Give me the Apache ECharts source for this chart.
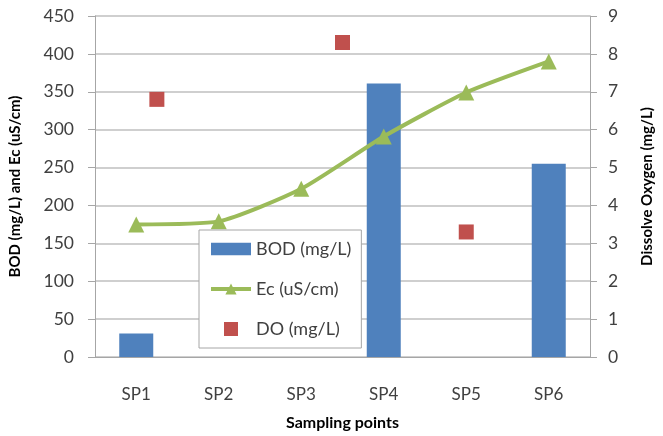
<!DOCTYPE html>
<html>
<head>
<meta charset="utf-8">
<script src="https://cdn.jsdelivr.net/npm/echarts@6/dist/echarts.min.js"></script>
<style>html,body{margin:0;padding:0;background:#fff;overflow:hidden;}#c{width:663px;height:436px;}</style>
</head>
<body>
<div id="c"></div>
<script>
var categories = ['SP1', 'SP2', 'SP3', 'SP4', 'SP5', 'SP6'];
var bodValues = [31, null, null, 361, null, 255];
var ecValues = [175, 179, 222, 291, 349, 390];
// DO points: x position in category units (0..6), value on right axis
var doX = [0.75, 3.0, 4.5];
var doValues = [6.8, 8.3, 3.3];
var leftTicks = [0, 50, 100, 150, 200, 250, 300, 350, 400, 450];
var rightTicks = [0, 1, 2, 3, 4, 5, 6, 7, 8, 9];

var FONT = 'Lato';
var doData = doX.map(function (x, i) { return [x, doValues[i]]; });

var chart = echarts.init(document.getElementById('c'), null, {renderer: 'canvas'});
chart.setOption({
  animation: false,
  backgroundColor: '#fff',
  textStyle: {fontFamily: FONT},
  grid: {left: 95, right: 67, top: 16, bottom: 73, containLabel: false},
  legend: {
    orient: 'vertical',
    left: 199, top: 230,
    padding: [10, 10, 10, 10],
    itemGap: 22,
    itemWidth: 40, itemHeight: 14,
    backgroundColor: '#fff',
    borderColor: '#a6a6a6', borderWidth: 1,
    textStyle: {fontFamily: FONT, fontSize: 18, color: '#404040'},
    data: [
      {name: 'BOD (mg/L)', icon: 'path://M0,0L40,0L40,12.5L0,12.5Z'},
      {name: 'Ec (uS/cm)', lineStyle: {width: 4, color: '#9bbb59'}},
      {name: 'DO (mg/L)', icon: 'path://M0,0L1,0L1,1L0,1Z', itemStyle: {opacity: 1}}
    ]
  },
  xAxis: [{
    type: 'category',
    data: categories,
    name: 'Sampling points',
    nameLocation: 'middle',
    nameGap: 58,
    nameTextStyle: {fontFamily: FONT, fontSize: 16, fontWeight: 'bold', color: '#000'},
    axisLine: {lineStyle: {color: '#a6a6a6', width: 1}},
    axisTick: {length: 7, lineStyle: {color: '#a6a6a6'}},
    axisLabel: {margin: 29, fontSize: 17, color: '#404040', fontFamily: FONT},
    splitLine: {show: false}
  }, {
    type: 'value',
    min: 0, max: 6,
    show: false
  }],
  yAxis: [{
    type: 'value',
    min: 0, max: 450, interval: 50,
    name: 'BOD (mg/L) and Ec (uS/cm)',
    nameLocation: 'middle',
    nameRotate: 90,
    nameGap: 72,
    nameTextStyle: {fontFamily: FONT, fontSize: 15, fontWeight: 'bold', color: '#000'},
    axisLine: {show: true, lineStyle: {color: '#a6a6a6', width: 1}},
    axisTick: {show: true, length: 7, lineStyle: {color: '#a6a6a6'}},
    axisLabel: {margin: 21, fontSize: 17.5, color: '#404040', fontFamily: FONT,
      formatter: function (v) { return leftTicks.indexOf(v) >= 0 ? String(v) : ''; }},
    splitLine: {show: true, lineStyle: {color: '#bfbfbf', width: 1.5}}
  }, {
    type: 'value',
    min: 0, max: 9, interval: 1,
    position: 'right',
    name: 'Dissolve Oxygen (mg/L)',
    nameLocation: 'middle',
    nameRotate: 90,
    nameGap: 50,
    nameTextStyle: {fontFamily: FONT, fontSize: 15, fontWeight: 'bold', color: '#000'},
    axisLine: {show: true, lineStyle: {color: '#a6a6a6', width: 1}},
    axisTick: {show: true, length: 7, lineStyle: {color: '#a6a6a6'}},
    axisLabel: {margin: 18, fontSize: 17.5, color: '#404040', fontFamily: FONT,
      formatter: function (v) { return rightTicks.indexOf(v) >= 0 ? String(v) : ''; }},
    splitLine: {show: false}
  }],
  series: [{
    name: 'BOD (mg/L)',
    type: 'bar',
    data: bodValues,
    barWidth: 34,
    itemStyle: {color: '#4f81bd'},
    z: 2
  }, {
    name: 'Ec (uS/cm)',
    type: 'line',
    data: ecValues,
    smooth: 0.2,
    symbol: 'triangle',
    symbolSize: 16,
    lineStyle: {color: '#9bbb59', width: 4},
    itemStyle: {color: '#9bbb59'},
    z: 3
  }, {
    name: 'DO (mg/L)',
    type: 'scatter',
    xAxisIndex: 1,
    yAxisIndex: 1,
    data: doData,
    symbol: 'rect',
    symbolSize: 15,
    itemStyle: {color: '#c0504d', opacity: 1},
    z: 4
  }]
});
</script>
</body>
</html>
